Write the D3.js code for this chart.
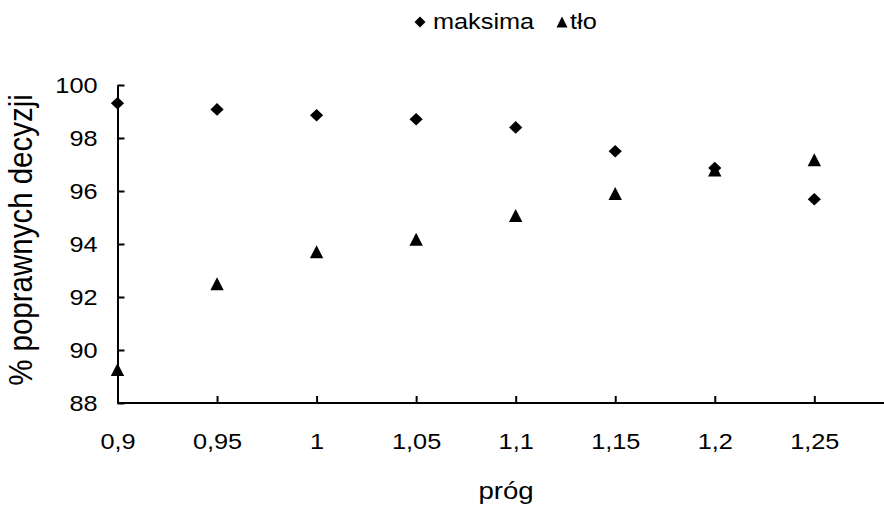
<!DOCTYPE html>
<html>
<head>
<meta charset="utf-8">
<script src="https://cdn.jsdelivr.net/npm/d3@7"></script>
<style>
  html, body { margin: 0; padding: 0; background: #fff; }
  svg { display: block; }
  text { font-family: "Liberation Sans", Arial, sans-serif; fill: #000; }
</style>
</head>
<body>
<svg id="chart" width="884" height="507"></svg>
<script>
// Threshold values (próg) and the matching tick labels
const thresholds = [0.9, 0.95, 1, 1.05, 1.1, 1.15, 1.2, 1.25];
const thresholdLabels = ["0,9", "0,95", "1", "1,05", "1,1", "1,15", "1,2", "1,25"];

// % of correct decisions for each series
const maksima = [99.31, 99.08, 98.86, 98.71, 98.40, 97.50, 96.87, 95.69];
const tlo = [89.26, 92.50, 93.71, 94.18, 95.08, 95.91, 96.79, 97.18];

const yTicks = [88, 90, 92, 94, 96, 98, 100];
const seriesNames = ["maksima", "tło"];

const svg = d3.select("#chart");
const plot = { left: 117.5, right: 884, top: 85, bottom: 403 };
const sx = 1.15; // horizontal text stretch
const fontSize = 22;

const x = d3.scaleLinear().domain([0.9, 1.285]).range([plot.left, plot.right]);
const y = d3.scaleLinear().domain([88, 100]).range([plot.bottom, plot.top]);

// Marker shapes
function diamond(w, h) {
  return `M0,${-h}L${w},0L0,${h}L${-w},0Z`;
}
function triangle(w, h) {
  return `M0,${-h}L${w},${h}L${-w},${h}Z`;
}

// Axes
const yAxis = d3.axisLeft(y).tickValues(yTicks).tickFormat(d3.format("d"))
  .tickSize(-7).tickSizeOuter(0).tickPadding(0);
const xAxis = d3.axisBottom(x).tickValues(thresholds)
  .tickFormat((d, i) => thresholdLabels[i])
  .tickSize(-7).tickSizeOuter(0).tickPadding(0);

const gy = svg.append("g").attr("transform", `translate(${plot.left},0)`).call(yAxis);
const gx = svg.append("g").attr("transform", `translate(0,${plot.bottom})`).call(xAxis);

[gx, gy].forEach(g => {
  g.select(".domain").attr("stroke", "#000").attr("stroke-width", 2);
  g.selectAll(".tick line").attr("stroke", "#000").attr("stroke-width", 2);
  g.selectAll(".tick text")
    .style("font-family", '"Liberation Sans", Arial, sans-serif')
    .attr("font-size", fontSize)
    .attr("fill", "#000");
});
gx.select(".domain").attr("d", `M${plot.left},0H${plot.right}`);

gy.selectAll(".tick text")
  .attr("x", -20 / sx)
  .attr("dy", "0.36em")
  .attr("transform", `scale(${sx},1)`);
gx.selectAll(".tick text")
  .attr("y", 30)
  .attr("dy", "0.71em")
  .attr("x", 0)
  .attr("transform", `scale(${sx},1)`);

// Points: maksima (diamonds), then tło (triangles)
svg.append("g").selectAll("path")
  .data(thresholds.map((t, i) => [t, maksima[i]]))
  .join("path")
  .attr("d", diamond(6.6, 6.3))
  .attr("transform", d => `translate(${x(d[0])},${y(d[1])})`)
  .attr("fill", "#000");

svg.append("g").selectAll("path")
  .data(thresholds.map((t, i) => [t, tlo[i]]))
  .join("path")
  .attr("d", triangle(6.7, 6.5))
  .attr("transform", d => `translate(${x(d[0])},${y(d[1])})`)
  .attr("fill", "#000");

// Axis titles
svg.append("text")
  .attr("transform", `translate(506,499) scale(${sx},1)`)
  .attr("text-anchor", "middle")
  .attr("font-size", 24)
  .text("próg");

svg.append("text")
  .attr("transform", `translate(32,240) scale(${sx},1) rotate(-90)`)
  .attr("text-anchor", "middle")
  .attr("font-size", 29.5)
  .text("% poprawnych decyzji");

// Legend
const legend = svg.append("g");
legend.append("path").attr("d", diamond(5.5, 5.5)).attr("transform", "translate(420,22)").attr("fill", "#000");
legend.append("text").attr("transform", `translate(433,29) scale(${sx},1)`).attr("font-size", fontSize).text(seriesNames[0]);
legend.append("path").attr("d", triangle(5.5, 5.5)).attr("transform", "translate(562,22)").attr("fill", "#000");
legend.append("text").attr("transform", `translate(570,29) scale(${sx},1)`).attr("font-size", fontSize).text(seriesNames[1]);
</script>
</body>
</html>
